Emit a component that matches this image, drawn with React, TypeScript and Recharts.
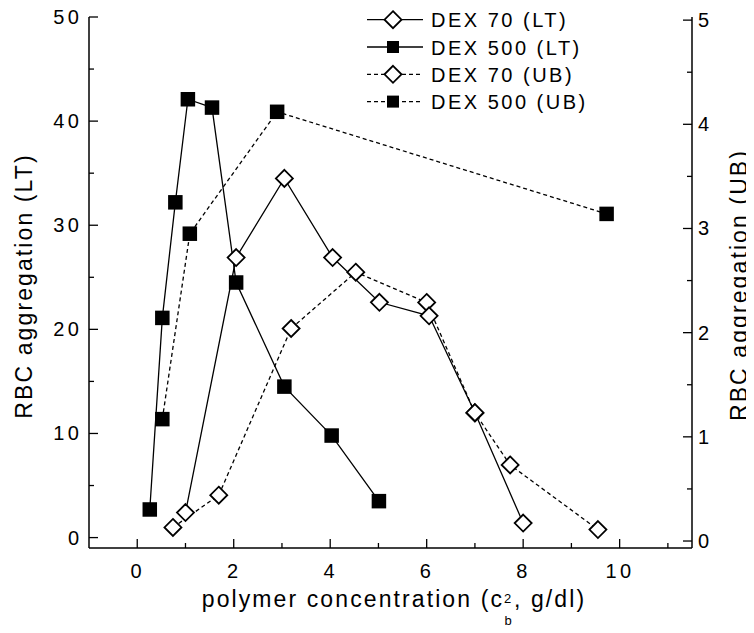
import React from 'react';
import { LineChart, Line, XAxis, YAxis, Legend } from 'recharts';

// concentration (x) and aggregation (y)
const dex70LtX = [1.0, 2.05, 3.05, 4.05, 5.02, 6.05, 7.0, 8.0];
const dex70LtY = [2.4, 26.9, 34.5, 26.9, 22.6, 21.3, 12.0, 1.4];

const dex500LtX = [0.26, 0.52, 0.79, 1.05, 1.55, 2.05, 3.05, 4.03, 5.01];
const dex500LtY = [2.7, 21.1, 32.2, 42.1, 41.3, 24.5, 14.5, 9.8, 3.5];

const dex70UbX = [0.74, 1.69, 3.19, 4.53, 6.0, 7.0, 7.73, 9.55];
const dex70UbY = [0.13, 0.44, 2.04, 2.58, 2.29, 1.23, 0.73, 0.11];

const dex500UbX = [0.52, 1.09, 2.9, 9.73];
const dex500UbY = [1.17, 2.95, 4.12, 3.14];

const seriesNames = ['DEX 70 (LT)', 'DEX 500 (LT)', 'DEX 70 (UB)', 'DEX 500 (UB)'];

const xTicks = [0, 1, 2, 3, 4, 5, 6, 7, 8, 9, 10, 11];
const leftTicks = [0, 5, 10, 15, 20, 25, 30, 35, 40, 45, 50];
const rightTicks = [0, 0.5, 1, 1.5, 2, 2.5, 3, 3.5, 4, 4.5, 5];

const FONT = '"Liberation Sans", Arial, Helvetica, sans-serif';

const toPoints = (xs: number[], ys: number[]) => xs.map((x, i) => ({ x, y: ys[i] }));

const Diamond = ({ cx, cy, r = 8.5 }: any) => (
  <path
    d={`M${cx},${cy - r}L${cx + r},${cy}L${cx},${cy + r}L${cx - r},${cy}Z`}
    fill="#fff"
    stroke="#000"
    strokeWidth={1.8}
  />
);

const Square = ({ cx, cy, s = 14.5 }: any) => (
  <rect x={cx - s / 2} y={cy - s / 2} width={s} height={s} fill="#000" />
);

const diamondDot = (p: any) => <Diamond key={`d-${p.index}`} cx={p.cx} cy={p.cy} />;
const squareDot = (p: any) => <Square key={`s-${p.index}`} cx={p.cx} cy={p.cy} />;

const tickText = { fontFamily: FONT, fontSize: 20, letterSpacing: 3.5, fill: '#000' };

const XTick = (props: any) => {
  const { x, y, payload } = props;
  const v = payload.value;
  const major = v % 2 === 0;
  return (
    <g>
      <line x1={x} x2={x} y1={y} y2={y - (major ? 9 : 5)} stroke="#000" strokeWidth={1.3} />
      {major && (
        <text x={x + 0.5} y={y + 30} textAnchor="middle" style={tickText}>
          {v}
        </text>
      )}
    </g>
  );
};

const LeftTick = (props: any) => {
  const { x, y, payload } = props;
  const v = payload.value;
  const major = v % 10 === 0;
  return (
    <g>
      <line x1={x} x2={x + (major ? 9 : 5)} y1={y} y2={y} stroke="#000" strokeWidth={1.3} />
      {major && (
        <text x={x - 6.5} y={y + 7} textAnchor="end" style={tickText}>
          {v}
        </text>
      )}
    </g>
  );
};

const RightTick = (props: any) => {
  const { x, y, payload } = props;
  const v = payload.value;
  const major = Number.isInteger(v);
  return (
    <g>
      <line x1={x} x2={x - (major ? 9 : 5)} y1={y} y2={y} stroke="#000" strokeWidth={1.3} />
      {major && (
        <text x={x + 6} y={y + 7} textAnchor="start" style={tickText}>
          {v}
        </text>
      )}
    </g>
  );
};

const titleText = { fontFamily: FONT, fontSize: 23, letterSpacing: 2.1, fill: '#000' };
const scriptText = { fontFamily: FONT, fontSize: 13, fill: '#000' };

const LeftTitle = () => (
  <text x={24} y={286} transform="rotate(-90 24 286)" textAnchor="middle" style={titleText}>
    RBC aggregation (LT)
  </text>
);

const RightTitle = () => (
  <text x={739} y={285} transform="rotate(-90 739 285)" textAnchor="middle" style={titleText}>
    RBC aggregation (UB)
  </text>
);

const BASE = 607;
const BottomTitle = () => (
  <g>
    <text x={496} y={BASE} textAnchor="end" style={titleText}>
      polymer concentration (c
    </text>
    <text x={496} y={BASE - 4} style={scriptText}>
      2
    </text>
    <text x={496.5} y={BASE + 18} style={scriptText}>
      b
    </text>
    <text x={506} y={BASE} style={titleText}>
      , g/dl)
    </text>
  </g>
);

const legendRows = [11.7, 39, 66.3, 93.6];

const LegendBox = () => (
  <svg width={330} height={115} style={{ overflow: 'visible' }}>
    {seriesNames.map((name, i) => {
      const y = legendRows[i];
      const dashed = i >= 2;
      return (
        <g key={name}>
          <line
            x1={4}
            x2={60}
            y1={y}
            y2={y}
            stroke="#000"
            strokeWidth={1.3}
            strokeDasharray={dashed ? '4 3' : undefined}
          />
          {i % 2 === 0 ? <Diamond cx={30} cy={y} /> : <Square cx={30} cy={y} s={12} />}
          <text x={68} y={y + 7.5} style={{ fontFamily: FONT, fontSize: 20, letterSpacing: 2.5, fill: '#000' }}>
            {name}
          </text>
        </g>
      );
    })}
  </svg>
);

export default function App() {
  return (
    <div style={{ width: 746, height: 633, marginTop: -8, marginBottom: -8 }}>
      <LineChart width={746} height={633} margin={{ top: 17, right: 0, bottom: 0, left: 0 }}>
        <XAxis
          type="number"
          dataKey="x"
          domain={[-1, 11.5]}
          allowDataOverflow
          ticks={xTicks}
          interval={0}
          height={85}
          tickSize={0}
          tickMargin={0}
          tickLine={false}
          tick={<XTick />}
          axisLine={{ stroke: '#000', strokeWidth: 1.5 }}
          label={{ content: () => <BottomTitle /> }}
        />
        <YAxis
          yAxisId="lt"
          type="number"
          domain={[-1, 50]}
          allowDataOverflow
          ticks={leftTicks}
          interval={0}
          width={81}
          tickSize={0}
          tickMargin={0}
          tickLine={false}
          tick={<LeftTick />}
          axisLine={{ stroke: '#000', strokeWidth: 1.5 }}
          label={{ content: () => <LeftTitle /> }}
        />
        <YAxis
          yAxisId="ub"
          orientation="right"
          type="number"
          domain={[-0.067, 5.03]}
          allowDataOverflow
          ticks={rightTicks}
          interval={0}
          width={62}
          tickSize={0}
          tickMargin={0}
          tickLine={false}
          tick={<RightTick />}
          axisLine={{ stroke: '#000', strokeWidth: 1.5 }}
          label={{ content: () => <RightTitle /> }}
        />
        <Legend
          layout="vertical"
          align="center"
          verticalAlign="middle"
          wrapperStyle={{ left: 355, top: 8, width: 330, height: 115 }}
          content={() => <LegendBox />}
        />
        <Line
          yAxisId="ub"
          data={toPoints(dex500UbX, dex500UbY)}
          dataKey="y"
          name={seriesNames[3]}
          stroke="#000"
          strokeWidth={1.3}
          strokeDasharray="4 3"
          dot={squareDot}
          activeDot={false}
          isAnimationActive={false}
        />
        <Line
          yAxisId="ub"
          data={toPoints(dex70UbX, dex70UbY)}
          dataKey="y"
          name={seriesNames[2]}
          stroke="#000"
          strokeWidth={1.3}
          strokeDasharray="4 3"
          dot={diamondDot}
          activeDot={false}
          isAnimationActive={false}
        />
        <Line
          yAxisId="lt"
          data={toPoints(dex500LtX, dex500LtY)}
          dataKey="y"
          name={seriesNames[1]}
          stroke="#000"
          strokeWidth={1.3}
          dot={squareDot}
          activeDot={false}
          isAnimationActive={false}
        />
        <Line
          yAxisId="lt"
          data={toPoints(dex70LtX, dex70LtY)}
          dataKey="y"
          name={seriesNames[0]}
          stroke="#000"
          strokeWidth={1.3}
          dot={diamondDot}
          activeDot={false}
          isAnimationActive={false}
        />
      </LineChart>
    </div>
  );
}
